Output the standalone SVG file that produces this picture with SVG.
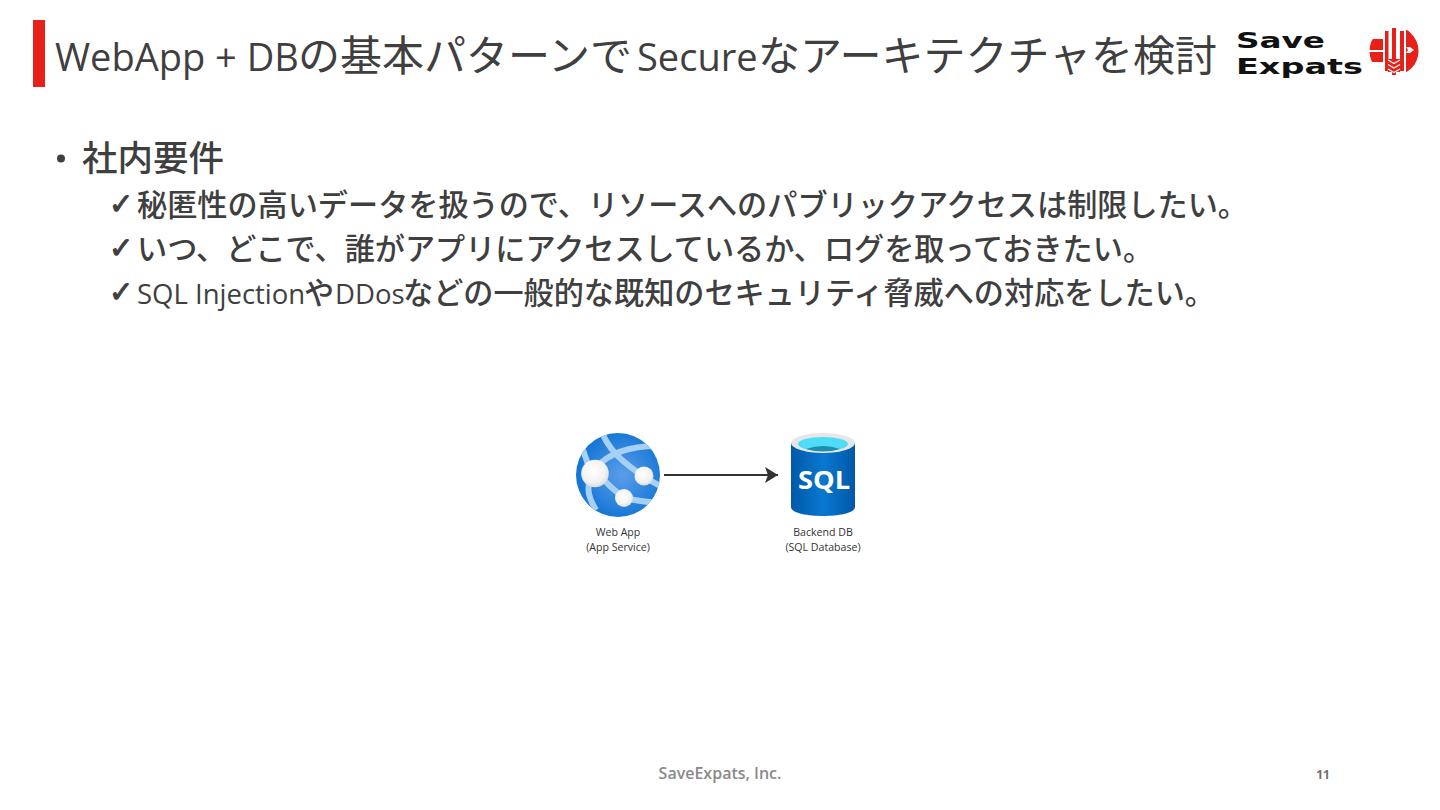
<svg xmlns="http://www.w3.org/2000/svg" width="1440" height="810" viewBox="0 0 1440 810">
<style>
text{font-family:"Open Sans","Noto Sans CJK JP",sans-serif;fill:#3f3f3f}
.sub{font-size:30.150px;font-weight:500}
.lat{font-size:27.500px;font-weight:400}
.tl{font-size:38px}
.chk{font-family:"DejaVu Sans",sans-serif;font-size:29px;font-weight:700;stroke:#3f3f3f;stroke-width:1.100}
.lab{font-size:10.600px;text-anchor:middle;fill:#333}
.logo{font-family:"DejaVu Sans",sans-serif;font-weight:700;font-size:22px;fill:#111}
</style>
<defs>
<marker id="arr" markerUnits="userSpaceOnUse" markerWidth="14" markerHeight="18" refX="13" refY="9" orient="auto"><path d="M0 1L13 9L0 17L3 9Z" fill="#333"/></marker>
<radialGradient id="gapp" cx=".55" cy=".5" r=".55"><stop offset="0" stop-color="#5a9eea"/><stop offset="1" stop-color="#1274d4"/></radialGradient>
<linearGradient id="gsql" x1="0" y1="0" x2="1" y2="0"><stop offset="0" stop-color="#0058a8"/><stop offset=".5" stop-color="#0a78d0"/><stop offset="1" stop-color="#0058a8"/></linearGradient>
<radialGradient id="gball" cx=".45" cy=".4" r=".7"><stop offset="0" stop-color="#fff"/><stop offset=".6" stop-color="#f2f2f2"/><stop offset="1" stop-color="#cfcfcf"/></radialGradient>
<clipPath id="cApp"><circle cx="618" cy="475" r="42"/></clipPath>
<clipPath id="cLogo"><circle cx="1394" cy="51" r="24.500"/></clipPath>
</defs>
<g id="title">
<rect x="33" y="20" width="12" height="67" fill="#e8201a"/>
<text y="71" font-size="42"><tspan class="tl" x="55">WebApp + DB</tspan><tspan x="298">の基本パターンで</tspan><tspan class="tl" x="637">Secure</tspan><tspan x="758">なアーキテクチャを検討</tspan></text>
</g>
<g id="logo">
<text class="logo" x="1236" y="47.500" textLength="89" lengthAdjust="spacingAndGlyphs">Save</text>
<text class="logo" x="1236" y="73.500" textLength="127" lengthAdjust="spacingAndGlyphs">Expats</text>
<g fill="#e8201a">
<g clip-path="url(#cLogo)"><rect x="1369" y="39" width="14" height="11"/><rect x="1369" y="52" width="14" height="10"/><rect x="1406" y="26" width="13" height="50"/></g>
<rect x="1385" y="31" width="3.500" height="40"/><rect x="1392" y="28" width="4" height="47"/><rect x="1400" y="31" width="4" height="40"/>
<rect x="1388" y="59" width="12" height="13"/>
</g>
<path d="M1406 47h4l4 3-4 3h-4l2-3z" fill="#fff"/>
<path d="M1388 60l6 3.500 6-3.500M1388 64.500l6 3.500 6-3.500M1388 69l6 3.500 6-3.500" fill="none" stroke="#fff" stroke-width="1.300"/>
</g>
<g id="requirements">
<circle cx="61" cy="158.500" r="4" fill="#3f3f3f"/>
<text x="82" y="171" font-size="35.500" font-weight="500">社内要件</text>
<text class="chk" x="109" y="214">✓</text>
<text class="sub" x="137" y="216">秘匿性の高いデータを扱うので、リソースへのパブリックアクセスは制限したい。</text>
<text class="chk" x="109" y="258">✓</text>
<text class="sub" x="137" y="260">いつ、どこで、誰がアプリにアクセスしているか、ログを取っておきたい。</text>
<text class="chk" x="109" y="302">✓</text>
<text class="sub" y="304"><tspan class="lat" x="137">SQL Injection</tspan><tspan x="304">や</tspan><tspan class="lat" x="335">DDos</tspan><tspan x="403">などの一般的な既知のセキュリティ脅威への対応をしたい。</tspan></text>
</g>
<g id="webapp">
<circle cx="618" cy="475" r="42" fill="url(#gapp)"/>
<g clip-path="url(#cApp)" fill="none" stroke="#a6d0f6" stroke-width="6">
<path d="M602 433Q610 450 622 460Q640 476 664 488"/>
<path d="M596 468Q615 445 662 446"/>
<path d="M583 450L590 470"/>
<path d="M604 480Q615 492 626 498Q640 502 664 503"/>
<path d="M590 482Q585 492 596 510"/>
</g>
<circle cx="595" cy="473.500" r="13.800" fill="url(#gball)"/>
<circle cx="644" cy="476" r="9.500" fill="url(#gball)"/>
<circle cx="624" cy="498" r="9" fill="url(#gball)"/>
<text class="lab" x="618" y="535.500">Web App</text>
<text class="lab" x="618" y="550.500">(App Service)</text>
</g>
<g id="sqldb">
<path d="M791 443v64c0 12 64 12 64 0v-64z" fill="url(#gsql)"/>
<ellipse cx="823" cy="443" rx="32" ry="10" fill="#e6e6e6"/>
<ellipse cx="823" cy="444" rx="25" ry="7" fill="#4fdcf8"/>
<path d="M806 449q17-6 34 0q-17 5-34 0z" fill="#1d8fa8"/>
<text x="824" y="489" font-size="25" font-weight="700" text-anchor="middle" style="fill:#fff" textLength="52" lengthAdjust="spacingAndGlyphs">SQL</text>
<text class="lab" x="823" y="535.500">Backend DB</text>
<text class="lab" x="823" y="550.500">(SQL Database)</text>
</g>
<g id="connectors">
<path d="M664 475H778" fill="none" stroke="#333" stroke-width="2" marker-end="url(#arr)"/>
</g>
<g id="footer">
<text x="720" y="779" font-size="16" font-weight="600" text-anchor="middle" style="fill:#8a8a8a">SaveExpats, Inc.</text>
<text x="1323" y="779" font-size="12" font-weight="700" text-anchor="middle" style="fill:#6f6f6f">11</text>
</g>
</svg>
